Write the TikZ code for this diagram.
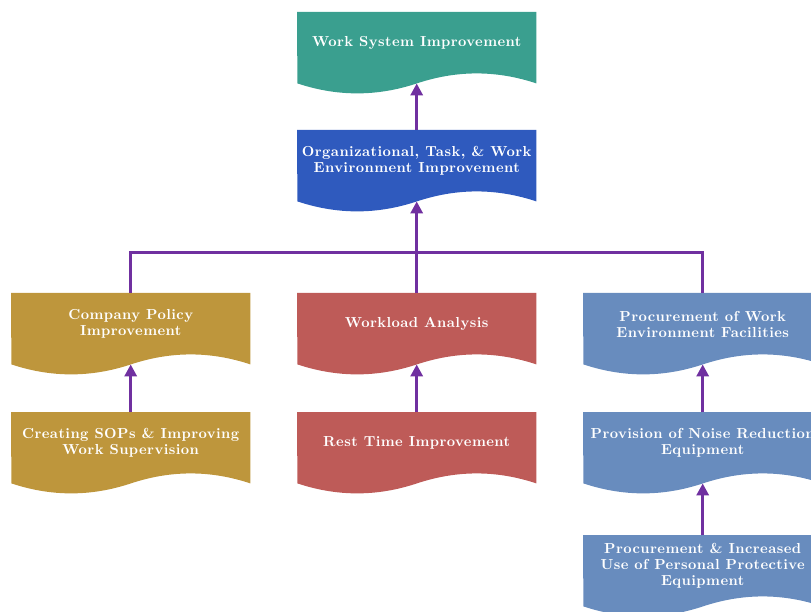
\documentclass[tikz,border=0pt]{standalone}
\usepackage{fontspec}
\usetikzlibrary{arrows.meta,backgrounds}

\newfontfamily\boxfamily{lmroman10-regular.otf}[BoldFont=lmroman10-bold.otf, LetterSpace=3]

\definecolor{sysgreen}{RGB}{58,159,143}
\definecolor{orgblue}{RGB}{47,90,190}
\definecolor{policygold}{RGB}{190,150,60}
\definecolor{workred}{RGB}{190,91,88}
\definecolor{facilblue}{RGB}{104,140,190}
\definecolor{linkpurple}{RGB}{112,48,160}

\newcommand\boxfont{\boxfamily\bfseries\fontsize{14.5}{16}\selectfont}

\tikzset{
  docbox/.style={rectangle, minimum width=239pt, minimum height=62pt, inner sep=0pt, anchor=north west, align=center, text=white, font=\boxfont},
  link/.style={draw=linkpurple, line width=3pt, -{Triangle[width=12pt,length=12pt]}},
  bus/.style={draw=linkpurple, line width=3pt}
}

\begin{document}
\begin{tikzpicture}[x=1pt,y=-1pt]
  \useasboundingbox (0,0) rectangle (811,612);

  % boxes
  \node (sys) [docbox] at (297,12) {Work System Improvement};
  \node (org) [docbox] at (297,130) {Organizational, Task, \& Work\\Environment Improvement};
  \node (policy) [docbox] at (11,293) {Company Policy\\Improvement};
  \node (workload) [docbox] at (297,293) {Workload Analysis};
  \node (facil) [docbox] at (583,293) {Procurement of Work\\Environment Facilities};
  \node (sop) [docbox] at (11,412) {Creating SOPs \& Improving\\Work Supervision};
  \node (rest) [docbox] at (297,412) {Rest Time Improvement};
  \node (noise) [docbox] at (583,412) {Provision of Noise Reduction\\Equipment};
  \node (ppe) [docbox] at (583,535) {Procurement \& Increased\\Use of Personal Protective\\Equipment};

  % wavy document shapes behind the texts
  \begin{scope}[on background layer]
    \foreach \n/\c in {sys/sysgreen, org/orgblue, policy/policygold, workload/workred, facil/facilblue,
                       sop/policygold, rest/workred, noise/facilblue, ppe/facilblue}
      \fill[\c] (\n.north west) -- (\n.north east) -- ([yshift=-9pt]\n.south east)
        .. controls +(-40,-13.3) and +(40,-13.3) .. ++(-119.5,0)
        .. controls +(-40,13.3) and +(40,13.3) .. ++(-119.5,0) -- cycle;
  \end{scope}

  % connectors
  \coordinate (busmid) at (416,253);
  \draw[link] (org.north) -- ([yshift=-9pt]sys.south);
  \draw[link] (workload.north) -- ([yshift=-9pt]org.south);
  \draw[bus] (policy.north) |- (busmid) -| (facil.north);
  \draw[link] (sop.north) -- ([yshift=-9pt]policy.south);
  \draw[link] (rest.north) -- ([yshift=-9pt]workload.south);
  \draw[link] (noise.north) -- ([yshift=-9pt]facil.south);
  \draw[link] (ppe.north) -- ([yshift=-9pt]noise.south);
\end{tikzpicture}
\end{document}
